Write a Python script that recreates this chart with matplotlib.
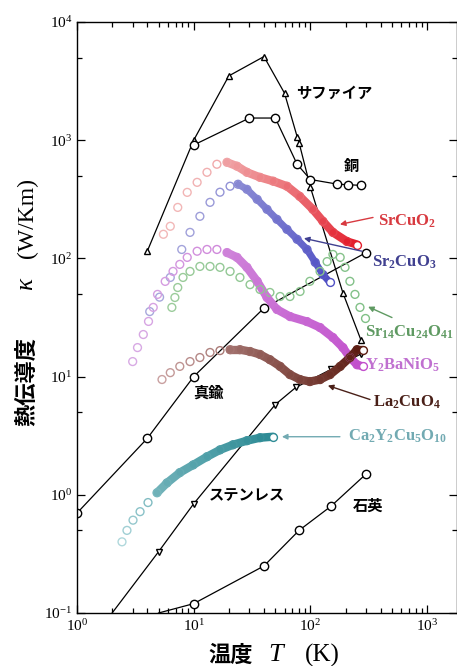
import numpy as np
import matplotlib
matplotlib.use("Agg")
import matplotlib.pyplot as plt
from matplotlib.ticker import LogLocator, NullFormatter
from matplotlib.collections import LineCollection
from matplotlib.colors import to_rgb

plt.rcParams['font.family'] = ['Liberation Serif', 'Noto Sans CJK JP']
plt.rcParams['mathtext.fontset'] = 'custom'
plt.rcParams['mathtext.rm'] = 'Liberation Serif'
plt.rcParams['mathtext.it'] = 'Liberation Serif:italic'
plt.rcParams['mathtext.bf'] = 'Liberation Serif:bold'

JP = 'Noto Sans CJK JP'

# reference materials (black)
sapphire_T = [4, 10, 20, 40, 60, 77, 80, 100, 190, 270]
sapphire_k = [115, 1000, 3500, 5100, 2500, 1070, 950, 400, 51, 20.6]
copper_T = [10, 30, 50, 77, 100, 170, 210, 270]
copper_k = [910, 1540, 1540, 625, 465, 425, 420, 415]
brass_T = [1, 4, 10, 40, 300]
brass_k = [0.7, 3.0, 10, 38, 112]
steel_T = [2, 5, 10, 50, 75, 150, 270]
steel_k = [0.1, 0.33, 0.84, 5.8, 8.1, 11.5, 15.5]
quartz_T = [5, 10, 40, 80, 150, 300]
quartz_k = [0.1, 0.12, 0.25, 0.5, 0.8, 1.5]

# cuprates etc. (coloured)
srcuo2_T = [5.5, 6.3, 7.3, 8.8, 10.7, 13, 15.8, 19.3, 23.5, 28.6, 37, 48, 63, 81,
            105, 128, 156, 206, 251]
srcuo2_k = [160, 187, 270, 362, 440, 535, 626, 650, 603, 535, 485, 450, 408, 335,
            260, 206, 166, 139, 131]
sr2cuo3_T = [4.2, 5.1, 6.3, 7.9, 9.3, 11.3, 13.8, 16.8, 20.5, 24, 28.6, 35, 42.5,
             51.7, 63, 77, 93.5, 110, 128, 147]
sr2cuo3_k = [35.5, 47, 69, 119, 166, 227, 298, 363, 408, 424, 384, 316, 260,
             214, 176, 145, 119, 92.5, 73, 62.6]
y2banio5_T = [3.0, 3.3, 3.7, 4.1, 4.5, 4.9, 5.7, 6.65, 7.6, 8.8, 10.7, 13, 15.8,
              19.3, 23.5, 28.6, 35, 42.5, 51.7, 67, 93.5, 121, 156, 190, 218, 251, 282]
y2banio5_k = [13.4, 17.6, 22.7, 29.3, 38.5, 49.6, 63.9, 77.6, 89, 102, 115, 119, 119,
              112, 102, 84, 64, 46.7, 37, 32.2, 29.2, 26, 21.4, 17.6, 14.5, 12.6, 12.2]
sr14_T = [6.5, 6.9, 7.3, 8.1, 9.3, 11.3, 13.8, 16.8, 20.5, 24.9, 30.4, 37, 45, 55,
          66.8, 81.5, 99, 121, 139, 156, 180, 198, 218, 241, 266, 294]
sr14_k = [38.5, 46.7, 56.7, 69, 77.6, 85.5, 85.5, 84, 77.6, 69, 60, 54.6, 51.5, 47.6,
          47.6, 52.5, 64, 77.6, 94, 108, 102, 84, 64, 49.6, 38.5, 31.6]
la2cuo4_T = [5.35, 6.3, 7.6, 9.3, 11.3, 13.8, 16.8, 20.5, 24.9, 30.4, 37, 45, 55,
             66.8, 81.5, 99, 121, 147, 180, 218, 251, 282]
la2cuo4_k = [9.45, 10.8, 12.2, 13.4, 14.5, 16, 16.6, 16.9, 16.9, 16.3, 15.4, 13.9,
             12.2, 10.4, 9.44, 9.08, 9.44, 10.4, 12.2, 14.5, 16.9, 16.9]
ca_T = [2.43, 2.68, 3.02, 3.47, 4.06, 4.85, 5.9, 7.6, 9.9, 13, 16.8, 21.7, 28.6, 37, 47.8]
ca_k = [0.40, 0.50, 0.61, 0.72, 0.86, 1.04, 1.26, 1.54, 1.79, 2.1, 2.4, 2.65, 2.87,
        3.04, 3.1]


def mix(c1, c2, t):
    return tuple((1 - t) * np.array(to_rgb(c1)) + t * np.array(to_rgb(c2)))


def coloured(ax, T, k, light, dark, band_from=None, lw=5.5, gamma=1.0):
    T = np.asarray(T, float)
    k = np.asarray(k, float)
    n = len(T)
    cols = [mix(light, dark, (i / (n - 1)) ** gamma) for i in range(n)]
    if band_from is not None:
        s = np.searchsorted(T, band_from)
        pts = np.column_stack([T[s:], k[s:]]).reshape(-1, 1, 2)
        segs = np.concatenate([pts[:-1], pts[1:]], axis=1)
        lc = LineCollection(segs, colors=cols[s + 1:], linewidths=lw,
                            capstyle='round', zorder=3)
        ax.add_collection(lc)
    ax.scatter(T[:-1], k[:-1], s=32, facecolors='none', edgecolors=cols[:-1],
               linewidths=1.0, zorder=4)
    ax.scatter(T[-1:], k[-1:], s=32, facecolors='white', edgecolors=[cols[-1]],
               linewidths=1.0, zorder=5)


fig = plt.figure(figsize=(4.57, 6.66), dpi=100)
ax = fig.add_axes([77 / 457, 53 / 666, (457 - 77) / 457, (613 - 22) / 666])
ax.set_xscale('log')
ax.set_yscale('log')
ax.set_xlim(1, 10 ** ((457 - 77) / 116.7))
ax.set_ylim(0.1, 1e4)

line_kw = dict(color='black', lw=0.9, mfc='white', mec='black', mew=1.0, zorder=2)
ax.plot(sapphire_T, sapphire_k, marker='^', ms=5, **line_kw)
ax.plot(copper_T, copper_k, marker='o', ms=6, **line_kw)
ax.plot(brass_T, brass_k, marker='o', ms=6, **line_kw)
ax.plot(steel_T, steel_k, marker='v', ms=5, markevery=list(range(1, len(steel_T))), **line_kw)
ax.plot(quartz_T, quartz_k, marker='o', ms=6, markevery=list(range(1, len(quartz_T))), **line_kw)

coloured(ax, srcuo2_T, srcuo2_k, '#f2b8b8', '#e3202e', band_from=19, lw=6, gamma=2.2)
coloured(ax, sr2cuo3_T, sr2cuo3_k, '#a8a8dc', '#5050c4', band_from=24, lw=5, gamma=1.6)
coloured(ax, sr14_T, sr14_k, '#9ccc9c', '#80c086')
coloured(ax, y2banio5_T, y2banio5_k, '#d8aae4', '#c24fcc', band_from=19, lw=6, gamma=1.3)
coloured(ax, la2cuo4_T, la2cuo4_k, '#c9a0a0', '#5c1d12', band_from=20, lw=6)
coloured(ax, ca_T, ca_k, '#b0d8dc', '#2f8c96', band_from=4.5, lw=6, gamma=0.8)

# tick setup
ax.xaxis.set_minor_locator(LogLocator(base=10, subs=np.arange(2, 10)))
ax.yaxis.set_minor_locator(LogLocator(base=10, subs=[5]))
ax.xaxis.set_minor_formatter(NullFormatter())
ax.yaxis.set_minor_formatter(NullFormatter())
ax.tick_params(which='both', direction='in', top=True, right=True, width=0.9)
ax.tick_params(which='major', length=6, labelsize=11)
ax.tick_params(which='minor', length=3.5)
for sp in ax.spines.values():
    sp.set_linewidth(1.0)

# material names
jp_kw = dict(family=JP, fontsize=11, weight='bold', va='center')
ax.text(75, 2500, 'サファイア', ha='left', **jp_kw)
ax.text(223, 600, '銅', ha='center', **jp_kw)
ax.text(13.3, 7.3, '真鍮', ha='center', **jp_kw)
ax.text(13.5, 1.0, 'ステンレス', ha='left', **jp_kw)
ax.text(232, 0.81, '石英', ha='left', **jp_kw)

labels = [
    (r'$\mathbf{SrCuO_2}$', '#d83a40', (380, 206), (344, 222), (179, 194)),
    (r'$\mathbf{Sr_2CuO_3}$', '#404090', (337, 92), (277, 115), (88, 148)),
    (r'$\mathbf{Sr_{14}Cu_{24}O_{41}}$', '#5f9a62', (294, 23.6), (500, 31.6), (312, 39)),
    (r'$\mathbf{Y_2BaNiO_5}$', '#c070d0', (294, 12.6), None, None),
    (r'$\mathbf{La_2CuO_4}$', '#4a2018', (344, 6.1), (324, 6.4), (141, 8.4)),
    (r'$\mathbf{Ca_2Y_2Cu_5O_{10}}$', '#72aab2', (210, 3.1), (179, 3.1), (57, 3.1)),
]
for txt, c, pos, tail, head in labels:
    ax.text(pos[0], pos[1], txt, color=c, fontsize=12, ha='left', va='center', zorder=6)
    if tail is not None:
        ax.annotate('', xy=head, xytext=tail,
                    arrowprops=dict(arrowstyle='-|>', color=c, lw=1.0,
                                    mutation_scale=8, shrinkA=0, shrinkB=0), zorder=6)

# axis labels
def px(x, y):
    return x / 457, 1 - y / 666

fig.text(*px(27, 381), '熱伝導度', family=JP, fontsize=16, weight='bold',
         rotation=90, ha='center', va='center')
fig.text(*px(27, 284), r'$\kappa$', fontsize=18, rotation=90, ha='center', va='center')
fig.text(*px(27, 218), '(W/Km)', fontsize=17, rotation=90, ha='center', va='center')
fig.text(*px(231, 655), '温度', family=JP, fontsize=16, weight='bold',
         ha='center', va='center')
fig.text(*px(277, 655), r'$T$', fontsize=19, ha='center', va='center')
fig.text(*px(322, 655), '(K)', fontsize=18, ha='center', va='center')

fig.savefig('out.png', dpi=100)
